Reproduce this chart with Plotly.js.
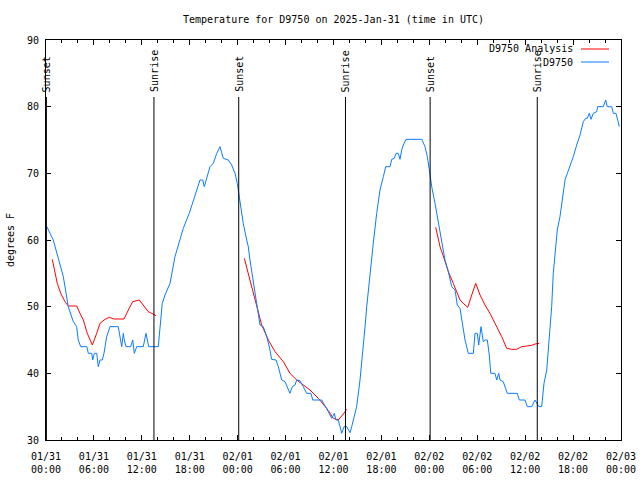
<!DOCTYPE html>
<html>
<head>
<meta charset="utf-8">
<script src="https://cdn.plot.ly/plotly-3.0.1.min.js"></script>
<style>
html,body{margin:0;padding:0;background:#fff;}
#chart{width:640px;height:480px;}
</style>
</head>
<body>
<div id="chart"></div>
<script>
// ---- data (hours since 2025-01-31 00:00 UTC, degrees F) ----
const startDate = '2025-01-31';

const obsName = 'D9750';
const obsHours = [0.1,0.91,2.17,2.79,3.42,3.84,4.04,4.35,5.1,5.3,5.72,5.85,6.05,6.35,6.55,6.76,7.05,7.26,7.6,8.01,9.05,9.27,9.48,9.68,9.8,10.02,10.6,10.86,11.06,11.36,12.18,12.52,12.68,12.86,14.06,14.36,14.56,14.9,15.53,16.15,16.78,17.19,17.94,18.66,19.28,19.62,19.82,20.54,20.95,21.38,21.79,22.2,22.83,23.25,23.67,23.95,24.2,24.7,25.13,25.33,25.54,25.96,26.38,26.8,27.21,27.64,27.96,28.26,28.8,29.09,29.51,29.93,30.55,30.84,31.18,31.39,31.8,32.22,32.64,33.18,33.4,34.52,34.94,35.35,35.78,36.1,36.31,36.6,37.03,37.32,37.65,38.07,38.28,38.48,38.69,38.9,39.32,39.66,39.95,40.16,40.57,40.98,41.41,41.82,42.24,42.54,43.08,43.29,43.61,43.83,44.11,44.33,44.54,44.74,45.08,47.05,47.46,47.75,48.0,48.3,48.71,49.12,49.55,49.96,50.38,50.8,51.22,51.5,51.84,52.13,52.47,52.88,53.51,53.72,54.01,54.18,54.47,54.76,55.01,55.26,55.51,55.69,56.22,56.44,56.69,56.85,57.26,57.76,59.01,59.27,59.98,60.27,60.82,61.23,61.52,61.73,62.07,62.36,62.7,63.11,63.32,63.52,63.74,64.02,64.36,64.7,64.99,65.28,65.61,66.03,66.45,66.87,67.28,67.58,67.78,68.03,68.24,68.53,68.96,69.08,69.78,70.08,70.28,70.84,71.04,71.37,71.59,71.79];
const obsTemps = [62,60,54.5,50,47.75,47,45,44,44,43,43,42,43,43,41,42,42,43,45.5,47,47,45.5,44,46,45,44,44,45,43,44,44,46,45,44,44,48.5,50.5,51.75,53.5,57.5,60,61.75,64,66.75,69,69,68,71,71.5,73,74,72.25,72,71.25,70,68.5,66.5,62.5,60,59,57,54,50.5,47.25,47,45.5,44,42.1,42,41,39,38.75,37,38,38.25,39,38.9,38,37,37,36,36,35,34.25,33.25,34,33,33,31,32,32,31.1,32,33,34.25,35,39,43,47,50,55,59.5,64,67.5,69.5,71,71,72.1,72.25,73,73,72.1,73.5,74.25,75.1,75.1,74,72.5,70.5,68,65.5,62.5,60,57,55.25,53,52.5,50.25,49.75,47.5,45,43,43,46,46,44.25,47,44.75,45,45,42.75,40,40,39,40,39,38.75,37,37,36,36,35,35,36,35.5,35,35,38.5,40.5,46,50,55,58.5,61.5,63.5,66.5,69,70,71.1,72.5,74.25,75.75,77.75,78.25,78.25,79,78.1,79,79.25,80,80,81,80,80,79,79,78,77];

const anaName = 'D9750 Analysis';
const anaHours = [0.79,1.13,1.41,1.84,2.38,2.79,3.84,4.26,4.67,5.17,5.8,6.35,6.76,7.39,7.93,8.51,9.77,10.31,10.86,11.68,12.18,12.81,13.65,13.77,null,
  24.83,25.54,26.38,27.01,27.84,28.68,29.72,30.55,31.39,32.22,33.06,34.1,35.15,35.98,36.6,37.23,37.65,null,
  48.8,49.34,49.84,50.38,51.0,51.43,51.84,52.25,52.81,53.31,53.81,54.35,54.97,55.6,56.44,57.06,57.69,58.31,58.94,59.57,60.19,60.82,61.23,61.77];
const anaTemps = [57.1,55,53.5,52,50.75,50.1,50.1,49,48,46,44.25,46,47.5,48.1,48.4,48.15,48.15,49.5,50.75,51,50.25,49.25,48.75,48.6,null,
  57.25,54,50,47.25,45,43.25,41.75,40,39,38.25,37.5,36.25,34.75,33.25,33,33.9,34.6,null,
  61.9,59,57.25,55.25,53.5,52.25,51,50.5,49.9,51.75,53.5,51.75,50.25,49,47,45.5,43.75,43.6,43.6,44,44.1,44.2,44.4,44.5];

const sunEventTimes = ['2025-01-31 00:03','2025-01-31 13:31','2025-02-01 00:08','2025-02-01 13:30','2025-02-02 00:06','2025-02-02 13:31'];
const sunEventLabels = ['Sunset','Sunrise','Sunset','Sunrise','Sunset','Sunrise'];

const xTickVals = ['2025-01-31 00:00','2025-01-31 06:00','2025-01-31 12:00','2025-01-31 18:00','2025-02-01 00:00','2025-02-01 06:00','2025-02-01 12:00','2025-02-01 18:00','2025-02-02 00:00','2025-02-02 06:00','2025-02-02 12:00','2025-02-02 18:00','2025-02-03 00:00'];
const xTickText = ['01/31<br>00:00','01/31<br>06:00','01/31<br>12:00','01/31<br>18:00','02/01<br>00:00','02/01<br>06:00','02/01<br>12:00','02/01<br>18:00','02/02<br>00:00','02/02<br>06:00','02/02<br>12:00','02/02<br>18:00','02/03<br>00:00'];
const yTickVals = [30,40,50,60,70,80,90];

const titleText = 'Temperature for D9750 on 2025-Jan-31 (time in UTC)';
const yTitleText = 'degrees F';

// ---- build ----
const t0 = Date.UTC(2025,0,31);
function toDate(h){
  if(h===null) return null;
  return new Date(t0 + h*3600000).toISOString().replace('T',' ').slice(0,19);
}

const FONT = {family:'DejaVu Sans Mono, monospace', size:10, color:'#000'};
const RED = '#ff0000', BLUE = '#0a7cff';

const traces = [
  {x: anaHours.map(toDate), y: anaTemps, name: anaName, mode:'lines', type:'scatter',
   line:{color:RED, width:1}, connectgaps:false, hoverinfo:'skip'},
  {x: obsHours.map(toDate), y: obsTemps, name: obsName, mode:'lines', type:'scatter',
   line:{color:BLUE, width:1}, hoverinfo:'skip'}
];

// plot area in pixels: x 46..621, y 40..440
const PL=46, PR=621, PT=40, PB=440;
const px = v => (v-PL)/(PR-PL);
const py = v => (PB-v)/(PB-PT);

const shapes = [];
const annotations = [];
sunEventTimes.forEach((t,i)=>{
  shapes.push({type:'line', xref:'x', yref:'paper', x0:t, x1:t, y0:0, y1:py(97),
    line:{color:'#000', width:1}});
  annotations.push({text:sunEventLabels[i], xref:'x', yref:'paper', x:t, y:py(93),
    xanchor:'center', yanchor:'bottom', textangle:-90, showarrow:false, font:FONT,
    borderpad:0, xshift:1});
});

// legend (gnuplot style: text on the left, sample on the right)
[[anaName, RED, 49],[obsName, BLUE, 62]].forEach(([name,col,yy])=>{
  annotations.push({text:name, xref:'paper', yref:'paper', x:px(574), y:py(yy),
    xanchor:'right', yanchor:'middle', showarrow:false, font:FONT, borderpad:0});
  shapes.push({type:'line', xref:'paper', yref:'paper', x0:px(581), x1:px(609),
    y0:py(yy), y1:py(yy), line:{color:col, width:1}});
});

const layout = {
  width:640, height:480,
  paper_bgcolor:'#fff', plot_bgcolor:'#fff',
  margin:{l:PL, r:640-PR, t:PT, b:480-PB, pad:0},
  showlegend:false,
  font: FONT,
  title:{text:titleText, font:FONT, x:0.5, xref:'paper', xanchor:'center',
         y:1-19/480, yref:'container', yanchor:'middle'},
  xaxis:{type:'date', range:['2025-01-31 00:00','2025-02-03 00:00'],
    tickmode:'array', tickvals:xTickVals, ticktext:xTickText,
    ticks:'inside', ticklen:5, tickcolor:'#000', tickwidth:1,
    minor:{tick0:'2025-01-31 00:00', dtick:7200000, ticks:'inside', ticklen:3, tickcolor:'#000', showgrid:false},
    showline:true, linecolor:'#000', linewidth:1, mirror:'allticks',
    showgrid:false, zeroline:false, tickfont:FONT, ticklabelstandoff:7, fixedrange:true},
  yaxis:{range:[30,90], tickmode:'array', tickvals:yTickVals,
    ticks:'inside', ticklen:5, tickcolor:'#000', tickwidth:1,
    showline:true, linecolor:'#000', linewidth:1, mirror:'allticks',
    showgrid:false, zeroline:false, tickfont:FONT, ticklabelstandoff:4,
    title:{text:yTitleText, font:FONT, standoff:10}, fixedrange:true},
  shapes: shapes,
  annotations: annotations
};

Plotly.newPlot('chart', traces, layout, {staticPlot:true, displayModeBar:false});
</script>
</body>
</html>
